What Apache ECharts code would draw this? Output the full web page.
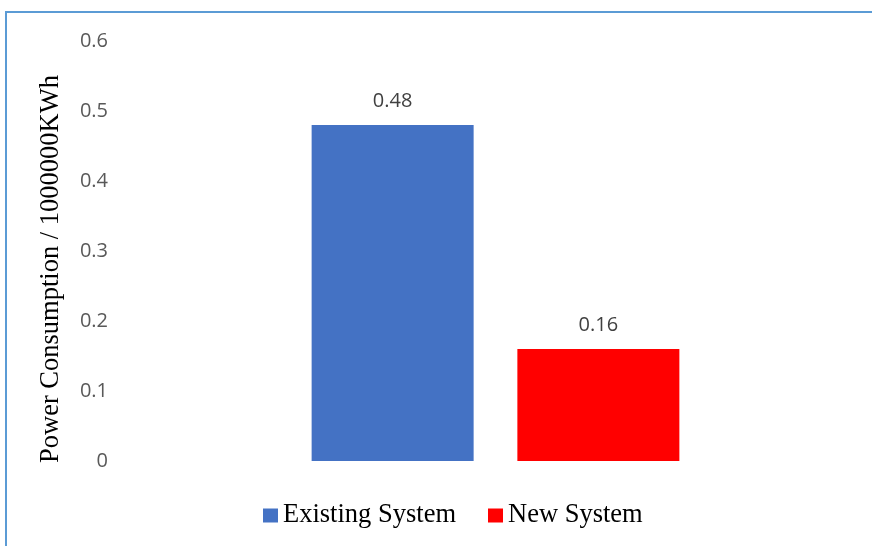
<!DOCTYPE html>
<html>
<head>
<meta charset="utf-8">
<script src="https://cdn.jsdelivr.net/npm/echarts@6/dist/echarts.min.js"></script>
<style>
  html, body { margin: 0; padding: 0; background: #fff; }
  #frame { position: absolute; left: 5px; top: 11px; width: 880px; height: 560px;
    border-left: 2px solid #5B9BD5; border-top: 2px solid #5B9BD5; }
  #main { position: absolute; left: 0; top: 0; width: 872px; height: 546px; }
</style>
</head>
<body>
<div id="frame"></div>
<div id="main"></div>
<script>
// data
const categories = [''];
const seriesNames = ['Existing System', 'New System'];
const existingValues = [0.48];
const newValues = [0.16];
const yTicks = [0, 0.1, 0.2, 0.3, 0.4, 0.5, 0.6];
const yName = 'Power Consumption / 1000000KWh';

let chart = echarts.init(document.getElementById('main'));

const labelStyle = {
  show: true,
  position: 'top',
  distance: 14,
  fontFamily: 'Open Sans',
  fontSize: 20,
  color: '#404040',
  formatter: p => String(p.value)
};

chart.setOption({
  animation: false,
  grid: { left: 130, right: 11, top: 41, bottom: 85 },
  graphic: [{
    type: 'text',
    x: 51, y: 269,
    rotation: Math.PI / 2,
    style: {
      text: yName,
      fontFamily: 'Liberation Serif',
      fontSize: 26.5,
      fill: '#000',
      align: 'center',
      verticalAlign: 'middle'
    }
  }],
  legend: {
    bottom: 12,
    left: 258,
    itemWidth: 15,
    itemHeight: 14,
    itemGap: 32,
    icon: 'rect',
    textStyle: { fontFamily: 'Liberation Serif', fontSize: 26.5, color: '#000', padding: [0, 0, 0, 0] },
    data: seriesNames
  },
  xAxis: {
    type: 'category',
    data: categories,
    axisLine: { show: false },
    axisTick: { show: false },
    axisLabel: { show: false }
  },
  yAxis: {
    type: 'value',
    min: yTicks[0],
    max: yTicks[yTicks.length - 1],
    interval: 0.1,
    axisLine: { show: false },
    axisTick: { show: false },
    splitLine: { show: false },
    axisLabel: {
      margin: 22,
      fontFamily: 'Open Sans',
      fontSize: 20,
      color: '#595959',
      formatter: v => String(Math.round(v * 10) / 10)
    }
  },
  series: [
    {
      name: seriesNames[0],
      type: 'bar',
      data: existingValues,
      barWidth: 162,
      barGap: '27%',
      itemStyle: { color: '#4472C4' },
      label: labelStyle
    },
    {
      name: seriesNames[1],
      type: 'bar',
      data: newValues,
      barWidth: 162,
      itemStyle: { color: '#FF0000' },
      label: labelStyle
    }
  ]
});
</script>
</body>
</html>
